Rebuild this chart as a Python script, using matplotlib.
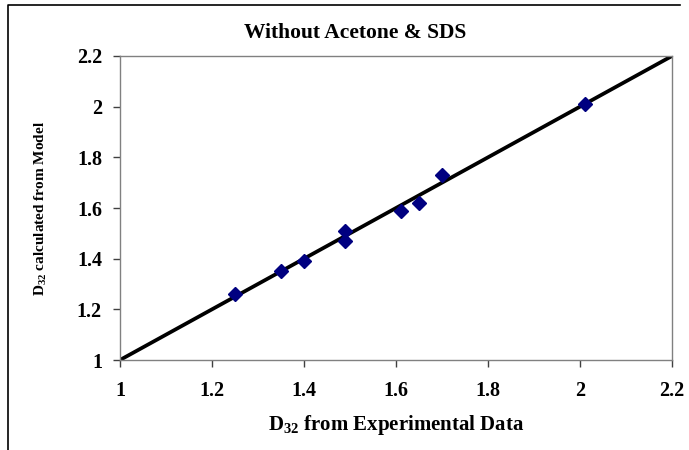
import matplotlib
matplotlib.use("Agg")
import matplotlib.pyplot as plt
from matplotlib.lines import Line2D

x_exp = [1.25, 1.35, 1.40, 1.49, 1.49, 1.61, 1.65, 1.70, 2.01]
y_model = [1.26, 1.35, 1.39, 1.51, 1.47, 1.59, 1.62, 1.73, 2.01]
fit_x = [1.0, 2.2]
fit_y = [1.0, 2.2]
ticks = [1, 1.2, 1.4, 1.6, 1.8, 2, 2.2]
tick_labels = ["1", "1.2", "1.4", "1.6", "1.8", "2", "2.2"]

plt.rcParams['font.family'] = ['Liberation Serif', 'DejaVu Serif']
plt.rcParams['mathtext.fontset'] = 'custom'
plt.rcParams['mathtext.bf'] = 'Liberation Serif:bold'
plt.rcParams['mathtext.rm'] = 'Liberation Serif:bold'
plt.rcParams['mathtext.it'] = 'Liberation Serif:bold'

W, H = 689, 450
fig = plt.figure(figsize=(W/100, H/100), dpi=100)
ax = fig.add_axes([120/W, 1-360/H, (672-120)/W, (360-56)/H])

ax.plot(fit_x, fit_y, color='black', lw=2.7, solid_capstyle='butt', zorder=2)
ax.plot(x_exp, y_model, linestyle='none', marker='D', markersize=7.2,
        color='#000080', markeredgecolor='#000080', zorder=3)

ax.set_xlim(1, 2.2)
ax.set_ylim(1, 2.2)
ax.set_xticks(ticks)
ax.set_xticklabels(tick_labels)
ax.set_yticks(ticks)
ax.set_yticklabels(tick_labels)
for sp in ax.spines.values():
    sp.set_color('#808080')
    sp.set_linewidth(1.0)
ax.tick_params(direction='out', length=5, width=1, color='#404040', labelsize=14.5)
ax.tick_params(axis='x', pad=10)
ax.tick_params(axis='y', pad=8)
for lab in ax.get_xticklabels() + ax.get_yticklabels():
    lab.set_fontweight('bold')

ax.set_xlabel(r"D$_{\mathbf{32}}$ from Experimental Data", fontsize=15, fontweight='bold', labelpad=9)
ax.set_ylabel(r"D$_{\mathbf{32}}$ calculated from Model", fontsize=11, fontweight='bold', labelpad=20)

fig.text(355/W, 1-33/H, "Without Acetone & SDS", ha='center', va='center',
         fontsize=15.5, fontweight='bold')

fig.add_artist(Line2D([8/W, 8/W, 680/W], [0, 1-5/H, 1-5/H], color='black', lw=1.2,
                      transform=fig.transFigure))

fig.savefig("out.png", dpi=100)
